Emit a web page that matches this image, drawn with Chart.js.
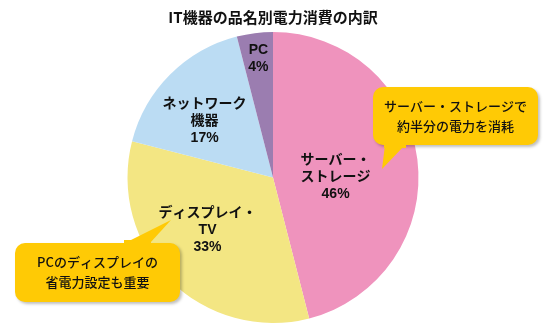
<!DOCTYPE html>
<html lang="ja">
<head>
<meta charset="utf-8">
<script src="https://cdn.jsdelivr.net/npm/chart.js@4"></script>
<style>
  html, body { margin: 0; padding: 0; background: #fff; }
  #wrap { width: 550px; height: 330px; }
</style>
</head>
<body>
<div id="wrap"><canvas id="powerChart" width="550" height="330"></canvas></div>
<script>
const categories = ['サーバー・ストレージ', 'ディスプレイ・TV', 'ネットワーク機器', 'PC'];
const shares = [46, 33, 17, 4];
const sliceColors = ['#EF93BD', '#F3E683', '#BBDCF3', '#9B7DB0'];

// label lines inside each slice (the % line is added from shares)
const sliceLabelLines = [
  ['サーバー・', 'ストレージ'],
  ['ディスプレイ・', 'TV'],
  ['ネットワーク', '機器'],
  ['PC']
];
// label anchor relative to pie centre, in units of radius
const sliceLabelPos = [[0.43, 0.0], [-0.45, 0.36], [-0.47, -0.39], [-0.10, -0.82]];

const notes = [
  { lines: ['サーバー・ストレージで', '約半分の電力を消耗'], box: [373, 87, 165, 58], tail: [[385, 145], [405, 145], [382, 169]] },
  { lines: ['PCのディスプレイの', '省電力設定も重要'], box: [15, 243, 165, 59], tail: [[125, 243], [150, 243], [171, 220]] }
];

const FONT = '"Noto Sans CJK JP", "Noto Sans", sans-serif';
const LABEL_FONT = '"Liberation Sans", "Noto Sans CJK JP", sans-serif';

function roundRect(ctx, x, y, w, h, r) {
  ctx.beginPath();
  ctx.moveTo(x + r, y);
  ctx.arcTo(x + w, y, x + w, y + h, r);
  ctx.arcTo(x + w, y + h, x, y + h, r);
  ctx.arcTo(x, y + h, x, y, r);
  ctx.arcTo(x, y, x + w, y, r);
  ctx.closePath();
}

const labelsPlugin = {
  id: 'sliceLabels',
  afterDatasetsDraw(chart) {
    const ctx = chart.ctx;
    const arc = chart.getDatasetMeta(0).data[0];
    const cx = arc.x, cy = arc.y, r = arc.outerRadius;
    ctx.save();
    ctx.fillStyle = '#111';
    ctx.font = 'bold 14px ' + LABEL_FONT;
    ctx.textAlign = 'center';
    ctx.textBaseline = 'middle';
    shares.forEach((v, i) => {
      const lines = sliceLabelLines[i].concat([v + '%']);
      const x = cx + sliceLabelPos[i][0] * r;
      const y = cy + sliceLabelPos[i][1] * r;
      const lh = 17;
      const top = y - (lines.length - 1) * lh / 2;
      lines.forEach((t, k) => ctx.fillText(t, x, top + k * lh));
    });
    ctx.restore();
  }
};

const notesPlugin = {
  id: 'notes',
  afterDraw(chart) {
    const ctx = chart.ctx;
    notes.forEach(n => {
      const [x, y, w, h] = n.box;
      ctx.save();
      ctx.shadowColor = 'rgba(0,0,0,0.25)';
      ctx.shadowBlur = 3;
      ctx.shadowOffsetX = 2;
      ctx.shadowOffsetY = 2;
      ctx.fillStyle = '#FFCA05';
      roundRect(ctx, x, y, w, h, 10);
      ctx.fill();
      ctx.restore();

      ctx.save();
      ctx.fillStyle = '#FFCA05';
      ctx.beginPath();
      ctx.moveTo(n.tail[0][0], n.tail[0][1]);
      ctx.lineTo(n.tail[2][0], n.tail[2][1]);
      ctx.lineTo(n.tail[1][0], n.tail[1][1]);
      ctx.closePath();
      ctx.fill();
      // cover the tail seam
      ctx.fillRect(n.tail[0][0] - 1, n.tail[0][1] - 3, n.tail[1][0] - n.tail[0][0] + 2, 6);

      ctx.fillStyle = '#111';
      ctx.font = '500 13px ' + FONT;
      ctx.textAlign = 'center';
      ctx.textBaseline = 'middle';
      const lh = 20;
      const top = y + h / 2 - (n.lines.length - 1) * lh / 2;
      n.lines.forEach((t, k) => ctx.fillText(t, x + w / 2, top + k * lh));
      ctx.restore();
    });
  }
};

const chart = new Chart(document.getElementById('powerChart').getContext('2d'), {
  type: 'pie',
  data: {
    labels: categories,
    datasets: [{
      data: shares,
      backgroundColor: sliceColors,
      borderWidth: 0
    }]
  },
  options: {
    responsive: false,
    animation: false,
    layout: { padding: { top: 2, bottom: 7, left: 0, right: 4 } },
    plugins: {
      legend: { display: false },
      tooltip: { enabled: false },
      title: {
        display: true,
        text: 'IT機器の品名別電力消費の内訳',
        color: '#111',
        font: { family: FONT, size: 15, weight: 'bold' },
        padding: { top: 6, bottom: 6 }
      }
    }
  },
  plugins: [labelsPlugin, notesPlugin]
});
</script>
</body>
</html>
